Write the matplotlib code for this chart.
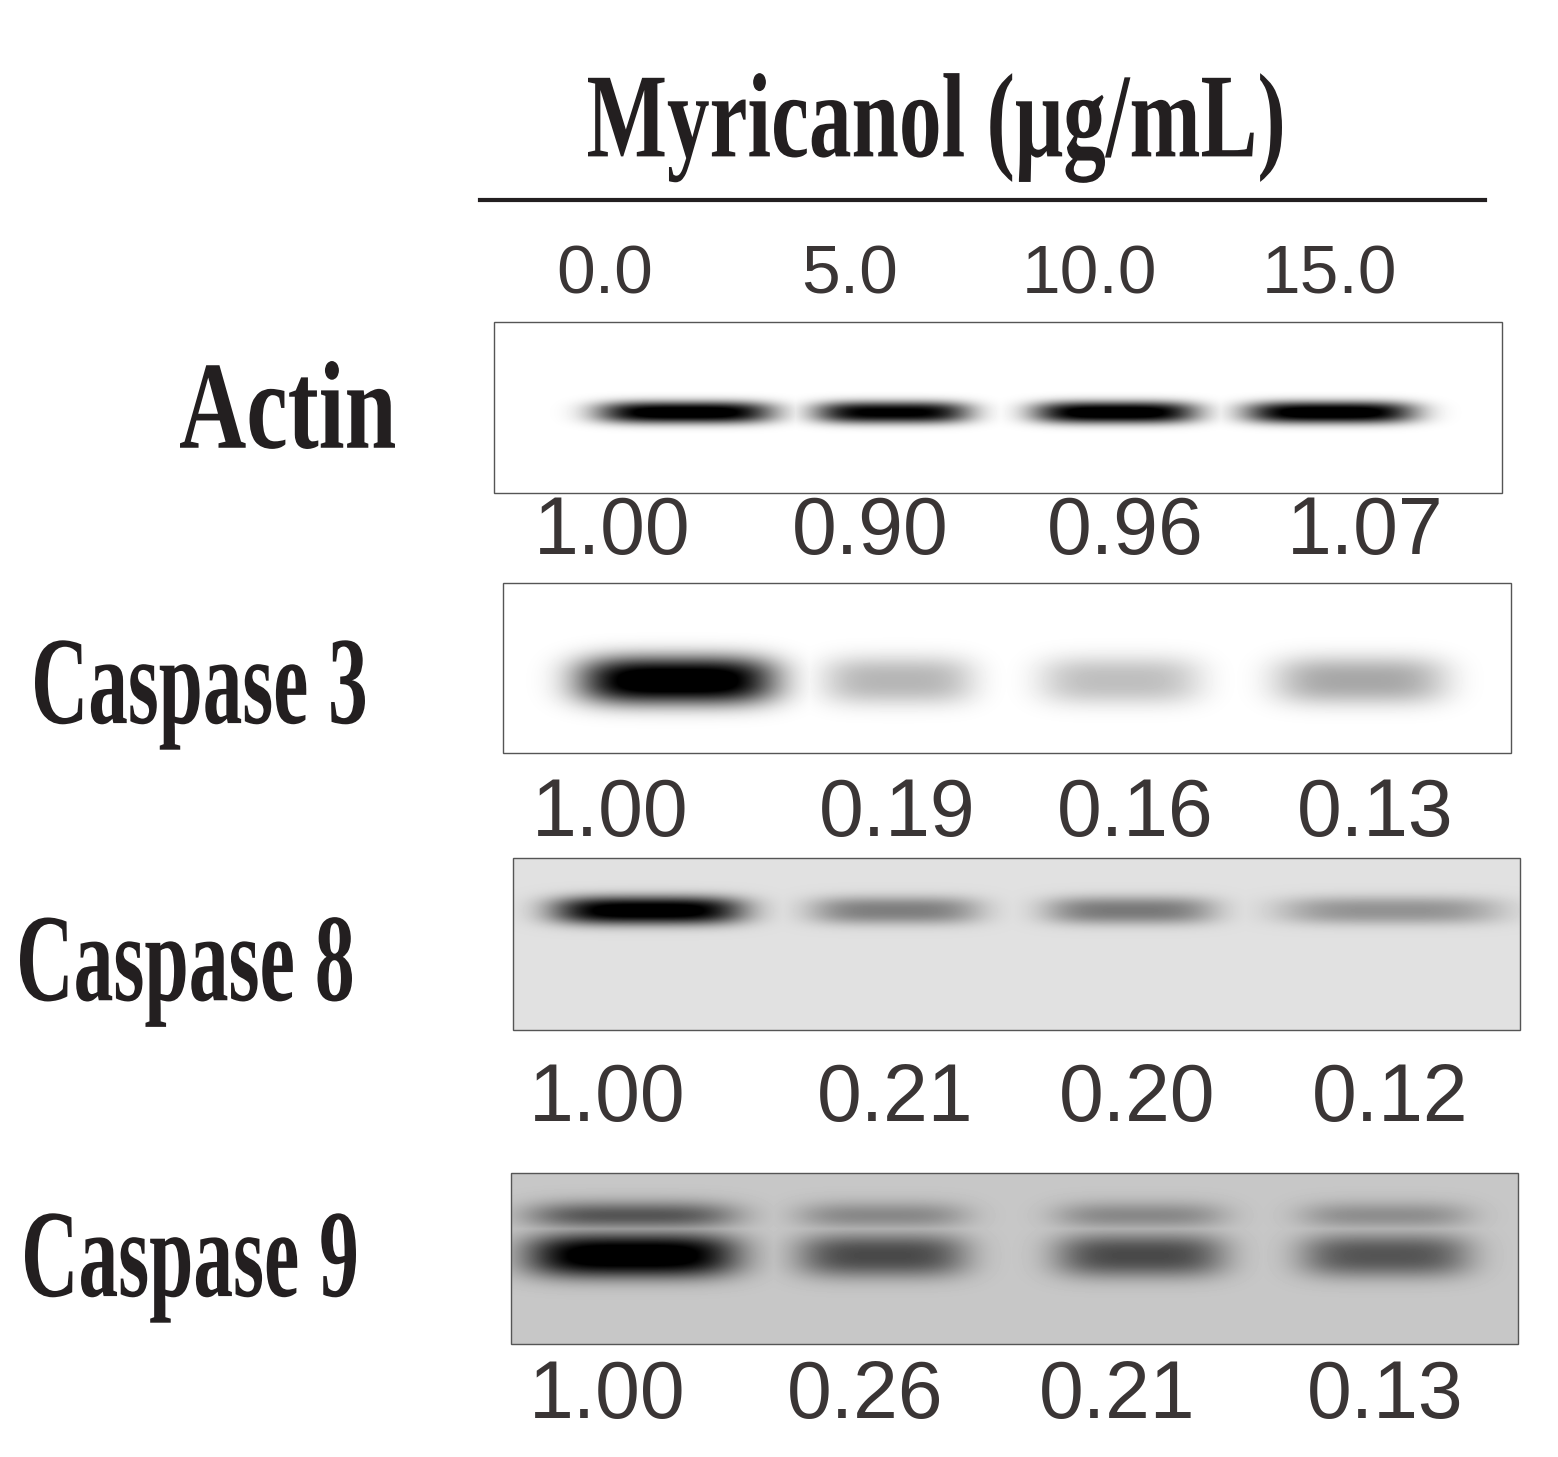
import numpy as np
import matplotlib
matplotlib.use("Agg")
import matplotlib.pyplot as plt
from matplotlib.textpath import TextPath
from matplotlib.patches import PathPatch, Rectangle
from matplotlib.font_manager import FontProperties
from matplotlib.transforms import Affine2D

doses = ["0.0", "5.0", "10.0", "15.0"]
proteins = ["Actin", "Caspase 3", "Caspase 8", "Caspase 9"]
actin_vals = ["1.00", "0.90", "0.96", "1.07"]
casp3_vals = ["1.00", "0.19", "0.16", "0.13"]
casp8_vals = ["1.00", "0.21", "0.20", "0.12"]
casp9_vals = ["1.00", "0.26", "0.21", "0.13"]
# band darkness (0..1) per lane
actin_band = [0.97, 0.90, 0.97, 0.97]
casp3_band = [1.0, 0.25, 0.22, 0.30]
casp8_band = [0.97, 0.38, 0.40, 0.30]
casp9_band = [1.0, 0.55, 0.55, 0.50]

W, H = 1558, 1457
fig = plt.figure(figsize=(W/100, H/100), dpi=100)
ax = fig.add_axes([0, 0, 1, 1])
ax.set_xlim(0, W); ax.set_ylim(H, 0); ax.axis("off")

serif = FontProperties(family="Liberation Serif", weight="bold")

def cond_text(s, x0, x1, yc, size, color="#231f20"):
    tp = TextPath((0, 0), s, size=size, prop=serif)
    ext = tp.get_extents()
    sx = (x1 - x0) / ext.width
    tr = Affine2D().translate(-ext.x0, -(ext.y0 + ext.y1) / 2).scale(sx, -1).translate(x0, yc)
    ax.add_patch(PathPatch(tr.transform_path(tp), fc=color, ec="none"))

cond_text("Myricanol (μg/mL)", 588, 1282, 128, 120)
ax.plot([480, 1485], [200, 200], color="#231f20", lw=3)

panels = [
    (494, 1502, 322, 493, 1.0, actin_band, [685, 892, 1115, 1330], [88, 78, 82, 85], 412, 11),
    (503, 1511, 583, 753, 1.0, casp3_band, [677, 898, 1120, 1360], [98, 75, 80, 85], 680, 24),
    (513, 1520, 858, 1030, 0.88, casp8_band, [648, 895, 1130, 1390], [95, 85, 85, 110], 910, 14),
    (511, 1518, 1173, 1344, 0.78, casp9_band, [632, 882, 1140, 1385], [105, 85, 85, 85], 1255, 22),
]
for i, (x0, x1, y0, y1, bg, bands, cxs, wxs, by, bh) in enumerate(panels):
    xs = np.arange(x0, x1)
    ys = np.arange(y0, y1)
    X, Y = np.meshgrid(xs, ys)
    dark = np.zeros_like(X, dtype=float)
    for amp, cx, wx in zip(bands, cxs, wxs):
        prof = np.exp(-np.abs((X - cx) / wx) ** 4) * np.exp(-np.abs((Y - by) / bh) ** 2.5)
        dark = np.maximum(dark, amp * prof)
        if i == 3:
            prof2 = np.exp(-np.abs((X - cx) / wx) ** 4) * np.exp(-np.abs((Y - (by - 40)) / 14) ** 2)
            dark = np.maximum(dark, amp * 0.5 * prof2)
    img = bg * (1 - np.clip(dark * 1.15, 0, 1))
    ax.imshow(img, cmap="gray", vmin=0, vmax=1, extent=(x0, x1, y1, y0), aspect="auto", zorder=1)
    ax.add_patch(Rectangle((x0, y0), x1 - x0, y1 - y0, fill=False, ec="#555555", lw=1, zorder=2))

cond_text("Actin", 180, 395, 405, 125)
cond_text("Caspase 3", 35, 365, 695, 125)
cond_text("Caspase 8", 20, 352, 972, 125)
cond_text("Caspase 9", 25, 356, 1268, 125)

numc = "#3a3535"
fam = ["Liberation Sans", "DejaVu Sans"]
for x, d in zip([605, 850, 1090, 1330], doses):
    ax.text(x, 275, d, ha="center", va="center", fontsize=50, color=numc, family=fam)
rows = [(actin_vals, [612, 870, 1125, 1365], 533), (casp3_vals, [610, 897, 1135, 1375], 815),
        (casp8_vals, [607, 895, 1137, 1390], 1100), (casp9_vals, [607, 865, 1117, 1385], 1397)]
for vals, xs, y in rows:
    for x, v in zip(xs, vals):
        ax.text(x, y, "\u2009".join(v) if False else v, ha="center", va="center",
                fontsize=58, color=numc, family=fam)

fig.savefig("out.png", dpi=100)
